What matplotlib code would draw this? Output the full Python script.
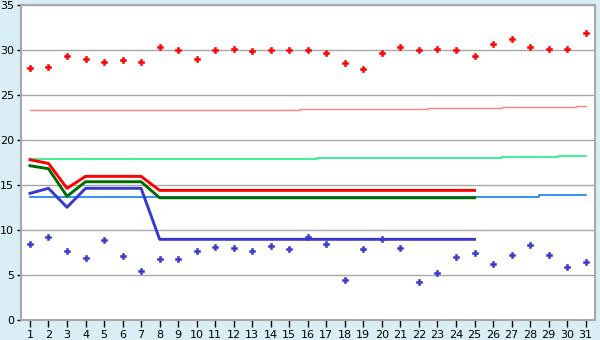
"""Daily readings vs. reference bands, recreated with plain matplotlib."""
import matplotlib

matplotlib.use("Agg")
import matplotlib.pyplot as plt  # noqa: E402

days = list(range(1, 32))

# scattered daily readings
high_points = [28.0, 28.2, 29.4, 29.0, 28.7, 28.9, 28.7, 30.4, 30.0, 29.0,
               30.0, 30.2, 29.9, 30.0, 30.0, 30.0, 29.7, 28.55, 27.9, 29.7,
               30.4, 30.0, 30.2, 30.0, 29.4, 30.7, 31.3, 30.4, 30.2, 30.2, 31.9]
low_points = [8.44, 9.22, 7.67, 6.89, 8.89, 7.11, 5.44, 6.78, 6.78, 7.67,
              8.11, 8.0, 7.67, 8.22, 7.89, 9.22, 8.44, 4.44, 7.89, 9.0,
              8.0, 4.22, 5.22, 7.0, 7.44, 6.22, 7.22, 8.33, 7.22, 5.89, 6.44]

# thick series, only the first 25 days
run_days = list(range(1, 26))
red_line = [17.85, 17.44, 14.67] + [16.0] * 4 + [14.44] * 18
green_line = [17.18, 16.85, 13.78] + [15.4] * 4 + [13.62] * 18
blue_line = [14.11, 14.67, 12.56] + [14.67] * 4 + [9.0] * 18

# thin stepped reference levels
salmon_ref = [23.37] * 15 + [23.48] * 7 + [23.59] * 4 + [23.7] * 4 + [23.8]
spring_ref = [17.89] * 16 + [18.0] * 10 + [18.1] * 3 + [18.22] * 2
sky_ref = [13.76] * 28 + [13.89] * 3

BG = "#DAEEF5"
FRAME = "#A8A8A8"

fig = plt.figure(figsize=(6.0, 3.4), dpi=100, facecolor=BG)
ax = fig.add_axes([0.0345, 0.058, 0.957, 0.926])
ax.set_facecolor("white")

ax.plot(days, salmon_ref, color="#FF8080", lw=1.0, drawstyle="steps-mid", zorder=2)
ax.plot(days, spring_ref, color="#19F07F", lw=1.2, drawstyle="steps-mid", zorder=2)
ax.plot(days, sky_ref, color="#1280F0", lw=1.2, drawstyle="steps-mid", zorder=2)

ax.plot(run_days, red_line, color="#FF0000", lw=2.1, zorder=3)
ax.plot(run_days, green_line, color="#006A00", lw=2.1, zorder=3)
ax.plot(run_days, blue_line, color="#3838CC", lw=2.1, zorder=3)

ax.plot(days, high_points, ls="none", marker="P", ms=4.3, mew=0.4,
        color="#FF0000", zorder=4)
ax.plot(days, low_points, ls="none", marker="P", ms=4.3, mew=0.4,
        color="#3838CC", zorder=4)

ax.set_xlim(0.5, 31.5)
ax.set_ylim(0, 35)
ax.set_xticks(days)
ax.set_yticks(range(0, 36, 5))
ax.yaxis.grid(True, color=FRAME, lw=1.0, zorder=1)
ax.set_axisbelow(True)

for side in ("top", "right", "left", "bottom"):
    ax.spines[side].set_color(FRAME)
    ax.spines[side].set_linewidth(1.5)

ax.tick_params(axis="x", direction="out", length=5, width=1, color="black",
               labelsize=8, pad=2)
ax.tick_params(axis="y", direction="out", length=3, width=1, color="black",
               labelsize=8, pad=2)

fig.savefig("out.png", dpi=100, facecolor=BG)
